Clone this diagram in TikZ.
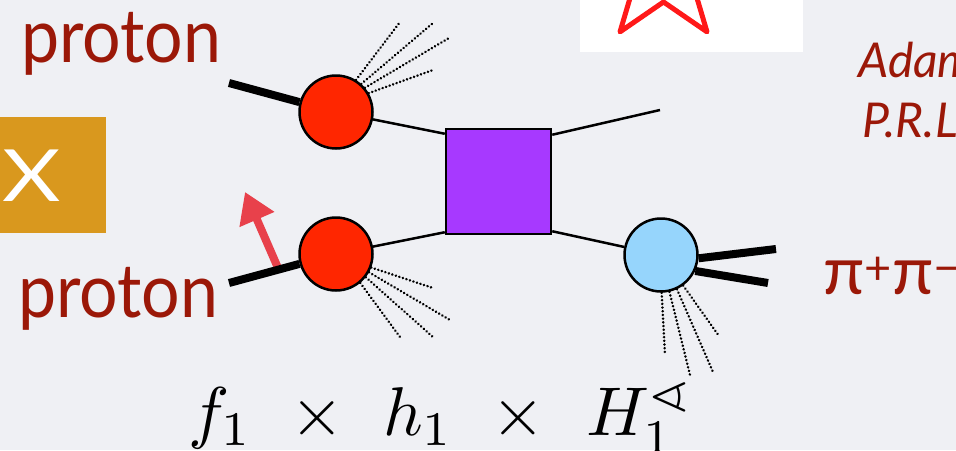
\documentclass[tikz,border=0pt]{standalone}
\usepackage{amsmath,amssymb}
\usepackage{graphicx}
\usepackage{fontspec}
\setsansfont{Lato}
\usepackage{xcolor}
\usepackage{tikz}
\usetikzlibrary{positioning,shapes.geometric,arrows.meta}

\definecolor{fondo}{RGB}{239,240,244}
\definecolor{rojotxt}{RGB}{155,24,8}
\definecolor{oro}{RGB}{217,152,30}
\definecolor{rojo}{RGB}{255,38,0}
\definecolor{morado}{RGB}{167,57,255}
\definecolor{celeste}{RGB}{150,213,252}
\definecolor{flecha}{RGB}{232,65,75}
\definecolor{estrella}{RGB}{255,25,25}

\newcommand{\grande}[1]{\scalebox{6.9}{$#1$}}
\newcommand{\alto}[1]{\scalebox{1}[1.1]{#1}}

\begin{document}
\begin{tikzpicture}[x=1pt, y=-1pt,
    burbuja/.style={draw, circle, line width=2.5pt, minimum size=73pt, inner sep=0pt},
    fino/.style={line width=2.5pt},
    grueso/.style={line width=8pt},
    frag/.style={line width=2.7pt, line cap=round, dash pattern=on 0.1pt off 3.6pt},
    etiq/.style={text=rojotxt, anchor=base west, inner sep=0pt},
    mate/.style={inner sep=0pt}]

    % Fondo y marco
    \fill[fondo] (0,0) rectangle (956,450);
    \useasboundingbox (0,0) rectangle (956,450);

    % Recuadro dorado con la X
    \fill[oro] (0,117) rectangle (106,233);
    \node[text=white, font=\sffamily\fontsize{72}{80}\selectfont, inner sep=0pt] (cruz) at (32,176) {\scalebox{1.25}[1]{X}};

    % Recuadro blanco con la estrella
    \fill[white] (580,0) rectangle (803,52);
    \begin{scope}
        \clip (580,0) rectangle (803,52);
        \node[star, star points=5, star point ratio=2.47, minimum size=148pt, inner sep=0pt,
              draw=estrella, line width=5pt, line join=round] (estrella) at (663.5,-28) {};
    \end{scope}

    % Textos
    \node[etiq, font=\sffamily\fontsize{68}{80}\selectfont] (p1) at (21,62) {\alto{proton}};
    \node[etiq, font=\sffamily\fontsize{68}{80}\selectfont] (p2) at (18,317) {\alto{proton}};
    \node[etiq, font=\sffamily\itshape\fontsize{48}{50}\selectfont] (adam) at (858,77) {Adam};
    \node[etiq, font=\sffamily\itshape\fontsize{48}{50}\selectfont] (prl) at (862,137) {P.R.L};
    \node[etiq, font=\sffamily\fontsize{67}{70}\selectfont] (pion) at (823,294) {π\textsuperscript{+}π\textsuperscript{−}};

    % Burbujas y caja central
    \node[burbuja, fill=rojo] (arriba) at (336,112) {};
    \node[burbuja, fill=rojo] (abajo) at (336,254) {};
    \node[burbuja, fill=celeste] (frag1) at (661,255) {};
    \node[draw, fill=morado, line width=2.5pt, minimum size=105pt, inner sep=0pt] (caja) at (498.5,181.5) {};

    % Espin del proton
    \coordinate (sbase) at (278,268);
    \coordinate (spunta) at (245,192);
    \draw[flecha, line width=8pt, -{Triangle[length=30pt, width=36pt]}] (sbase) -- (spunta);

    % Protones entrantes
    \coordinate (in1) at (229,83);
    \coordinate (in2) at (229,283);
    \draw[grueso] (in1) -- (arriba);
    \draw[grueso] (in2) -- (abajo);

    % Partones hacia la caja
    \draw[fino] (arriba) -- ([yshift=-6pt]caja.north west);
    \draw[fino] (abajo) -- ([yshift=3pt]caja.south west);
    \coordinate (q) at (660,110);
    \draw[fino] ([yshift=-7pt]caja.north east) -- (q);
    \draw[fino] ([yshift=4pt]caja.south east) -- (frag1);

    % Par de piones
    \coordinate (pi1) at (776,249);
    \coordinate (pi2) at (768,283);
    \draw[grueso] (frag1.-5) -- (pi1);
    \draw[grueso] (frag1.-25) -- (pi2);

    % Restos (lineas punteadas)
    \foreach \a/\p in {58/{400,22}, 48/{433,23}, 40/{449,38}, 30/{433,70}}
        \draw[frag] (arriba.\a) -- (\p);
    \foreach \a/\p in {-50/{400,337}, -38/{433,337}, -29/{450,320}, -21/{433,288}}
        \draw[frag] (abajo.\a) -- (\p);
    \foreach \a/\p in {-89/{665,355}, -77/{690,375}, -65/{713,372}, -54/{719,336}}
        \draw[frag] (frag1.\a) -- (\p);

    % Factorizacion
    \node[mate, anchor=base west] (funo) at (188,435) {\grande{f_1}};
    \node[mate, anchor=base] (por1) at (317,435) {\grande{\times}};
    \node[mate, anchor=base west] (huno) at (383,435) {\grande{h_1}};
    \node[mate, anchor=base] (por2) at (518,435) {\grande{\times}};
    \node[mate, anchor=base west] (Huno) at (586,435) {\grande{H_1^{\sphericalangle}}};

\end{tikzpicture}
\end{document}
